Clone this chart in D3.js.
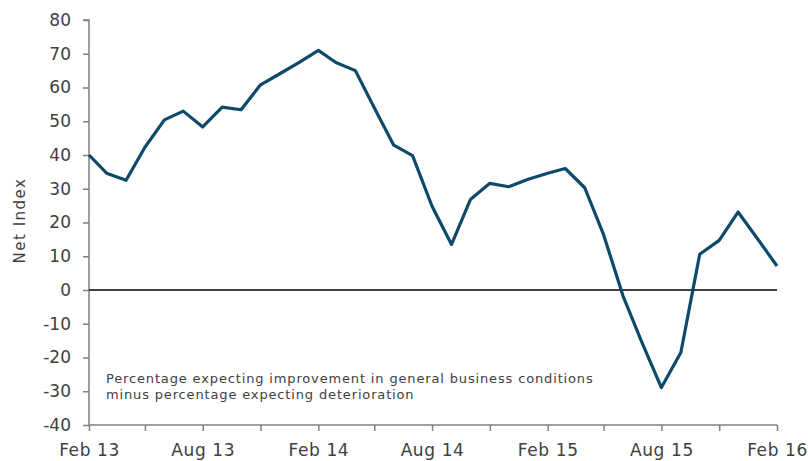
<!DOCTYPE html>
<html>
<head>
<meta charset="utf-8">
<script src="https://cdn.jsdelivr.net/npm/d3@7"></script>
<style>
  body { margin: 0; background: #fff; }
  text { font-family: "DejaVu Sans", sans-serif; fill: #404040; }
</style>
</head>
<body>
<div id="chart"></div>
<script>
// monthly, Feb 13 .. Feb 16
const months = d3.range(37).map(i => new Date(2013, 1 + i, 1));
const netIndex = [40, 34.6, 32.5, 42.3, 50.4, 53, 48.3, 54.2, 53.4, 60.8, 64, 67.4, 71,
  67.4, 65, 54, 42.9, 39.8, 24.8, 13.5, 26.8, 31.6, 30.6, 32.8, 34.6, 36,
  30.3, 16.4, -1.8, -15.5, -28.9, -18.5, 10.6, 14.7, 23.1, 15.2, 7.1];
const yTicks = [-40, -30, -20, -10, 0, 10, 20, 30, 40, 50, 60, 70, 80];
const note = ["Percentage expecting improvement in general business conditions",
  "minus percentage expecting deterioration"];

const width = 808, height = 461;
const margin = {top: 20, right: 31, bottom: 36, left: 89};

const svg = d3.select("#chart").append("svg")
  .attr("width", width).attr("height", height);

const x = d3.scaleTime()
  .domain([months[0], months[months.length - 1]])
  .range([margin.left, width - margin.right]);
const y = d3.scaleLinear()
  .domain([-40, 80])
  .range([height - margin.bottom, margin.top]);

// y axis
const yAxis = svg.append("g")
  .attr("transform", `translate(${margin.left},0)`)
  .call(d3.axisLeft(y).tickValues(yTicks).tickSize(6).tickPadding(12).tickFormat(d => String(d)));
yAxis.selectAll("text").style("font-size", "17px").attr("fill", "#404040");

// x axis: ticks every 3 months, labels every 6
const xAxis = svg.append("g")
  .attr("transform", `translate(0,${height - margin.bottom})`)
  .call(d3.axisBottom(x).tickValues(months.filter((d, i) => i % 3 === 0)).tickSize(6).tickPadding(13)
    .tickFormat((d, i) => i % 2 === 0 ? d3.timeFormat("%b %y")(d) : ""));
xAxis.selectAll("text").style("font-size", "17px").style("letter-spacing", "0.6px").attr("fill", "#404040");

svg.selectAll(".domain, .tick line").attr("stroke", "#7f7f7f").attr("stroke-width", 1.5);
yAxis.select(".domain").attr("d", `M-6,${y(80)}H0V${y(-40)}`);
xAxis.select(".domain").attr("d", `M${margin.left},0H${width - margin.right}`);

// zero line
svg.append("line")
  .attr("x1", margin.left).attr("x2", width - margin.right)
  .attr("y1", y(0)).attr("y2", y(0))
  .attr("stroke", "#000").attr("stroke-width", 1.5);

// series
svg.append("path")
  .datum(netIndex)
  .attr("fill", "none")
  .attr("stroke", "#0d4a6a")
  .attr("stroke-width", 3.2)
  .attr("stroke-linejoin", "round")
  .attr("d", d3.line().x((d, i) => x(months[i])).y(d => y(d)));

// axis title
svg.append("text")
  .attr("transform", `translate(25,${y(20) - 2}) rotate(-90)`)
  .attr("text-anchor", "middle")
  .style("font-size", "15px")
  .style("letter-spacing", "1.5px")
  .text("Net Index");

// note
svg.append("text")
  .attr("x", 106).attr("y", 383)
  .style("font-size", "13px")
  .style("letter-spacing", "0.85px")
  .selectAll("tspan").data(note).join("tspan")
  .attr("x", 106).attr("dy", (d, i) => i ? 16 : 0)
  .text(d => d);
</script>
</body>
</html>
